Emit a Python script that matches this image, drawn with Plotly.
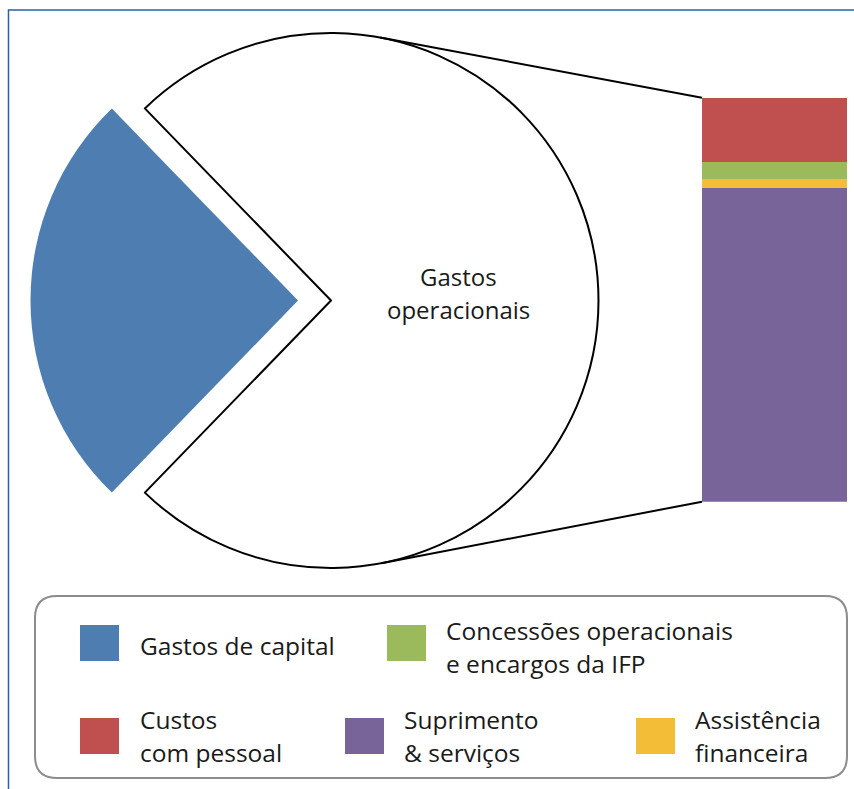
import math
import plotly.graph_objects as go

W, H = 854, 789

# ---------------- data ----------------
pie_labels = ["Gastos de capital", "Gastos operacionais"]
capital_value = 25.5
bar_labels = ["Suprimento & serviços", "Assistência financeira",
              "Concessões operacionais e encargos da IFP", "Custos com pessoal"]
bar_values = [57.9, 1.6, 3.2, 11.8]
bar_colors = ["#786498", "#f4bd37", "#9aba5b", "#c0504f"]
capital_color = "#4e7eb1"

legend_lines = [["Gastos de capital"],
                ["Concessões operacionais", "e encargos da IFP"],
                ["Custos", "com pessoal"],
                ["Suprimento", "& serviços"],
                ["Assistência", "financeira"]]
legend_colors = [capital_color, bar_colors[2], bar_colors[3], bar_colors[0], bar_colors[1]]
pie_label_lines = ["Gastos", "operacionais"]

# ---------------- layout helpers (pixel -> paper) ----------------
def px(x):
    return x / W

def py(y):
    return 1 - y / H

FONT = "Open Sans"

operational_total = sum(bar_values)
pie_values = [capital_value, operational_total]
frac_capital = capital_value / (capital_value + operational_total)

# pie geometry
CX, CY, R = 331, 300.5, 267.5
PULL = 0.1234
half_box = R * (1 + PULL)
pie_domain_x = [px(CX - half_box), px(CX + half_box)]
pie_domain_y = [max(0, py(CY + half_box)), min(1, py(CY - half_box))]

rotation = 270 - 180 * frac_capital
if rotation > 180:
    rotation -= 360

fig = go.Figure()
fig.add_trace(go.Pie(
    values=pie_values, labels=pie_labels, sort=False, direction="clockwise",
    rotation=rotation, pull=[PULL, 0],
    marker=dict(colors=[capital_color, "white"],
                line=dict(color=["rgba(0,0,0,0)", "black"], width=[0, 2])),
    textinfo="none", showlegend=False,
    domain=dict(x=pie_domain_x, y=pie_domain_y),
))

# bar geometry
BX0, BX1, BY0, BY1 = 702, 847, 97.7, 501.7
for lab, v, c in zip(bar_labels, bar_values, bar_colors):
    fig.add_trace(go.Bar(x=[0], y=[v], name=lab, marker=dict(color=c, line=dict(width=0)),
                         width=1, showlegend=False, xaxis="x", yaxis="y"))

fig.update_layout(
    width=W, height=H, autosize=False,
    margin=dict(l=0, r=0, t=0, b=0),
    paper_bgcolor="white", plot_bgcolor="rgba(0,0,0,0)",
    barmode="stack",
    xaxis=dict(domain=[px(BX0), px(BX1)], range=[-0.5, 0.5], visible=False, fixedrange=True),
    yaxis=dict(domain=[py(BY1), py(BY0)], range=[0, operational_total], visible=False, fixedrange=True),
    font=dict(family=FONT, color="#1a1a1a"),
)

shapes = []
# connector lines (tangent from bar corners to pie circle)
for (bx, by), sign in (((BX0, BY0), -1), ((BX0, BY1), 1)):
    dx, dy = bx - CX, by - CY
    d = math.hypot(dx, dy)
    a = math.atan2(dy, dx) + sign * math.acos(R / d)
    tx, ty = CX + R * math.cos(a), CY + R * math.sin(a)
    shapes.append(dict(type="line", xref="paper", yref="paper",
                       x0=px(tx), y0=py(ty), x1=px(bx), y1=py(by),
                       line=dict(color="black", width=2)))

# outer frame
shapes.append(dict(type="rect", xref="paper", yref="paper",
                   x0=px(8.5), y0=py(10), x1=px(W + 10), y1=py(H + 10),
                   line=dict(color="#2b62a0", width=1.5)))

# legend box (rounded)
L0, T0, L1, T1, rr = 35, 596, 847, 778, 22
def P(x, y):
    return f"{px(x):.5f},{py(y):.5f}"
path = (f"M {P(L0 + rr, T0)} L {P(L1 - rr, T0)} Q {P(L1, T0)} {P(L1, T0 + rr)} "
        f"L {P(L1, T1 - rr)} Q {P(L1, T1)} {P(L1 - rr, T1)} "
        f"L {P(L0 + rr, T1)} Q {P(L0, T1)} {P(L0, T1 - rr)} "
        f"L {P(L0, T0 + rr)} Q {P(L0, T0)} {P(L0 + rr, T0)} Z")
shapes.append(dict(type="path", xref="paper", yref="paper", path=path,
                   line=dict(color="#8c8c8c", width=2)))

# legend swatches and labels
swatch_pos = [(80, 625), (387, 625), (80, 718), (345, 718), (636, 718)]
text_x = [138, 444, 138, 402, 693]
text_y = [[645], [630, 663], [719, 752], [719, 752], [719, 752]]
SW, SH = 39, 36
annotations = []
for (sx, sy), tx, tys, lines, col in zip(swatch_pos, text_x, text_y, legend_lines, legend_colors):
    shapes.append(dict(type="rect", xref="paper", yref="paper",
                       x0=px(sx), y0=py(sy + SH), x1=px(sx + SW), y1=py(sy),
                       fillcolor=col, line=dict(width=0)))
    for ty, line in zip(tys, lines):
        annotations.append(dict(xref="paper", yref="paper", x=px(tx), y=py(ty),
                                text=line, showarrow=False, xanchor="left", yanchor="middle",
                                font=dict(size=24.5, family=FONT, color="#1a1a1a")))

# pie label
for ty, line in zip([276, 310], pie_label_lines):
    annotations.append(dict(xref="paper", yref="paper", x=px(458), y=py(ty),
                            text=line, showarrow=False, xanchor="center", yanchor="middle",
                            font=dict(size=24, family=FONT, color="#1a1a1a")))

fig.update_layout(shapes=shapes, annotations=annotations)
fig.write_html("out.html", config={"displayModeBar": False},
               post_script="document.body.style.margin='0';")
